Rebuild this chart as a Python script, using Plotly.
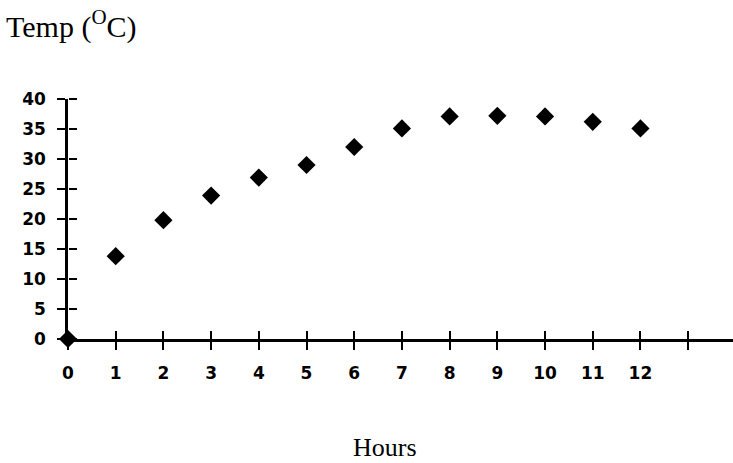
import plotly.graph_objects as go

# Temperature readings over twelve hours
hours = list(range(13))
temps = [0, 13.8, 19.8, 23.9, 26.9, 29.0, 32.0, 35.1, 37.1, 37.2, 37.1, 36.2, 35.1]

x_tick_vals = list(range(14))
x_tick_text = [str(h) for h in range(13)] + [""]
y_tick_vals = list(range(0, 41, 5))
y_tick_text = [str(v) for v in y_tick_vals]

tick_font = dict(family="DejaVu Sans", size=17, weight="bold", color="black")

fig = go.Figure()
fig.add_trace(go.Scatter(
    x=hours, y=temps, mode="markers",
    marker=dict(symbol="diamond", size=14, color="black"),
    cliponaxis=False, showlegend=False,
))
# mirrored axes sitting on the same lines draw the other half of every
# cross-shaped tick (pointing up from the x axis, right from the y axis)
fig.add_trace(go.Scatter(
    x=hours, y=temps, xaxis="x2", yaxis="y", mode="markers",
    marker=dict(opacity=0), hoverinfo="skip", showlegend=False,
))
fig.add_trace(go.Scatter(
    x=hours, y=temps, xaxis="x", yaxis="y2", mode="markers",
    marker=dict(opacity=0), hoverinfo="skip", showlegend=False,
))

common = dict(showgrid=False, zeroline=False, tickcolor="black", tickwidth=2, ticklen=8)

fig.update_layout(
    width=733, height=463,
    margin=dict(l=68, r=0, t=99, b=124),
    paper_bgcolor="white", plot_bgcolor="white",
    xaxis=dict(range=[0, 13.94], showline=True, linecolor="black", linewidth=2.5,
               ticks="outside", tickvals=x_tick_vals, ticktext=x_tick_text,
               tickfont=tick_font, ticklabelstandoff=9, **common),
    yaxis=dict(range=[0, 40], showline=True, linecolor="black", linewidth=2.5,
               ticks="outside", tickvals=y_tick_vals, ticktext=y_tick_text,
               tickfont=tick_font, ticklabelstandoff=8, **common),
    xaxis2=dict(range=[0, 13.94], overlaying="x", anchor="free", position=0,
                side="top", ticks="outside", tickvals=x_tick_vals,
                showticklabels=False, showline=False, **common),
    yaxis2=dict(range=[0, 40], overlaying="y", anchor="free", position=0,
                side="right", ticks="outside", tickvals=y_tick_vals,
                showticklabels=False, showline=False, **common),
    annotations=[
        dict(text="Temp (<sup>O</sup>C)", xref="paper", yref="paper", x=0, y=1,
             xanchor="left", yanchor="bottom", xshift=-64, yshift=53, showarrow=False,
             font=dict(family="Liberation Serif", size=30, color="black")),
        dict(text="Hours", xref="paper", yref="paper", x=0.477, y=0,
             xanchor="center", yanchor="top", yshift=-92, showarrow=False,
             font=dict(family="Liberation Serif", size=26, color="black")),
    ],
)

fig.write_html("out.html")
